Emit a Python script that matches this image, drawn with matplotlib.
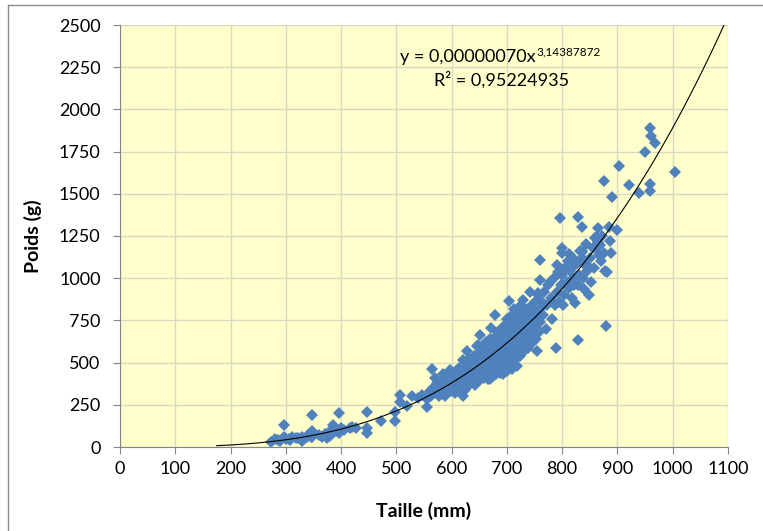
import matplotlib.pyplot as plt
import numpy as np
from matplotlib.lines import Line2D

# (taille mm, poids g)
points = [
    (273, 31), (280, 45), (286, 41), (290, 38), (297, 57), (297, 130), (300, 45), (305, 50),
    (308, 41), (312, 60), (318, 51), (322, 55), (329, 61), (329, 37), (333, 48), (338, 57),
    (340, 70), (345, 62), (347, 95), (347, 190), (347, 57), (350, 80), (360, 70), (365, 60),
    (371, 77), (374, 51), (378, 90), (380, 65), (386, 130), (390, 95), (397, 85), (397, 203),
    (400, 110), (405, 100), (416, 111), (420, 120), (427, 111), (446, 209), (446, 111), (446, 85),
    (472, 156), (498, 209), (498, 156), (507, 308), (507, 268), (519, 243), (529, 302), (540, 290),
    (547, 308), (555, 282), (555, 239),
    (560, 330), (562, 300), (564, 460), (566, 350), (568, 320), (570, 409), (572, 340), (574, 380),
    (575, 350), (577, 300), (579, 360), (580, 390), (582, 330), (584, 370), (585, 432), (586, 350),
    (588, 300), (590, 400), (591, 340), (592, 380), (594, 360), (596, 420), (597, 459), (598, 330),
    (600, 420), (600, 380), (601, 350), (603, 440), (604, 400), (605, 410), (606, 320), (607, 370),
    (608, 450), (610, 360), (610, 420), (611, 390), (612, 390), (613, 340), (614, 470), (615, 430),
    (616, 380), (617, 410), (618, 350), (619, 450), (620, 400), (620, 300),
    (621, 518), (622, 440), (623, 380), (624, 340), (625, 470), (626, 420), (627, 567), (628, 400),
    (629, 450), (630, 490), (630, 360), (631, 430), (632, 520), (633, 400), (634, 470), (635, 380),
    (636, 440), (637, 500), (638, 420), (639, 460), (640, 540), (640, 400), (641, 480), (642, 370),
    (643, 450), (644, 510), (645, 439), (645, 600), (646, 420), (647, 470), (648, 606), (648, 390),
    (649, 530), (650, 450), (650, 500), (651, 665), (651, 420), (652, 560), (653, 480), (654, 400),
    (655, 520), (656, 440), (657, 580), (658, 470), (659, 410), (660, 540), (660, 490),
    (661, 460), (662, 620), (663, 420), (664, 550), (665, 500), (666, 400), (667, 580), (668, 470),
    (669, 400), (670, 640), (670, 520), (671, 440), (672, 705), (672, 560), (673, 490), (674, 420),
    (675, 600), (676, 530), (677, 460), (678, 783), (678, 650), (679, 560), (680, 500), (680, 430),
    (681, 620), (682, 540), (683, 470), (684, 680), (685, 590), (686, 510), (687, 440), (688, 459),
    (688, 640), (689, 570), (690, 700), (690, 500), (691, 620), (692, 550), (693, 430), (694, 660),
    (695, 580), (696, 480), (697, 720), (698, 610), (699, 520), (700, 650), (700, 560), (700, 450),
    (701, 760), (702, 600), (703, 500), (704, 862), (704, 680), (705, 560), (706, 518), (707, 720),
    (708, 640), (709, 460), (710, 780), (710, 590), (711, 680), (712, 520), (713, 820), (714, 620),
    (715, 700), (716, 560), (717, 750), (718, 480), (719, 660), (720, 800), (720, 600), (721, 700),
    (722, 540), (723, 760), (724, 537), (724, 650), (725, 840), (726, 700), (727, 597), (727, 620),
    (728, 760), (729, 680), (730, 872), (730, 560), (731, 730), (732, 640), (733, 800), (734, 700),
    (735, 600), (736, 760), (737, 680), (738, 820), (739, 587), (739, 720), (740, 640), (741, 780),
    (742, 921), (742, 700), (743, 760), (744, 660), (745, 840), (746, 720), (747, 620), (748, 800),
    (749, 700), (750, 760), (750, 680), (751, 860), (752, 740), (753, 640), (754, 567), (754, 800),
    (755, 700), (756, 900), (757, 911), (757, 760), (758, 680), (759, 1108), (759, 820), (760, 990),
    (760, 740),
    (763, 860), (765, 780), (768, 920), (770, 700), (772, 840), (775, 960), (778, 980), (780, 880),
    (782, 760), (785, 1000), (787, 843), (789, 587), (790, 1079), (791, 920), (793, 1039), (795, 860),
    (796, 1355), (797, 960), (799, 1148), (799, 1177), (800, 1020), (802, 843), (804, 900), (806, 1060),
    (808, 980), (810, 1100), (812, 940), (813, 1144), (815, 1040), (817, 880), (819, 1000), (820, 1120),
    (822, 960), (823, 852), (824, 1080), (826, 1089), (828, 636), (829, 961), (829, 1361), (831, 1020),
    (833, 1160), (835, 1163), (835, 1305), (835, 1120), (836, 1158), (838, 1000), (839, 935), (841, 1080),
    (843, 1200), (845, 1040), (848, 1069), (848, 902), (850, 1120), (853, 980), (855, 1180), (858, 1060),
    (860, 1240), (862, 1246), (862, 1180), (864, 1295), (864, 1216), (866, 1140), (868, 1197), (870, 1100),
    (872, 1250), (875, 1151), (875, 1576), (877, 1040), (880, 715), (881, 1039), (884, 1305), (886, 1220),
    (888, 1150), (890, 1483), (899, 1286),
    (902, 1665), (921, 1552), (939, 1507), (950, 1750), (959, 1888), (960, 1842), (968, 1799),
    (959, 1558), (959, 1519), (1004, 1631),
]
taille = [p[0] for p in points]
poids = [p[1] for p in points]

# trendline shown on the chart
coef_a = 0.00000070
coef_b = 3.14387872
eq_text = "y = 0,00000070x"
eq_exp = "3,14387872"
r2_text = "R² = 0,95224935"

plt.rcParams['font.family'] = ['Lato', 'DejaVu Sans']

fig = plt.figure(figsize=(7.63, 5.31), dpi=100)
ax = fig.add_axes([120/763, 1 - 447/531, 608/763, 422/531])
ax.set_facecolor('#FFFFCC')

ax.set_xlim(0, 1100)
ax.set_ylim(0, 2500)
ax.set_xticks(np.arange(0, 1101, 100))
ax.set_yticks(np.arange(0, 2501, 250))
ax.grid(True, color='#D9D9C3', linewidth=1)
ax.set_axisbelow(True)
for s in ['top', 'right']:
    ax.spines[s].set_visible(False)
for s in ['left', 'bottom']:
    ax.spines[s].set_color('#868686')
ax.tick_params(colors='#868686', labelcolor='black', labelsize=13, length=5, direction='out')
ax.tick_params(axis='y', pad=9)
ax.tick_params(axis='x', pad=5)

ax.plot(taille, poids, linestyle='none', marker='D', markersize=6,
        color='#4F81BD', markeredgewidth=0)

xs = np.linspace(175, 1100, 300)
ax.plot(xs, coef_a * xs ** coef_b, color='black', linewidth=0.8)

ax.text(752, 2281, eq_text, ha='right', va='baseline', fontsize=13)
ax.text(753, 2318, eq_exp, ha='left', va='baseline', fontsize=8.5)
ax.text(691, 2139, r2_text, ha='center', va='baseline', fontsize=13)

ax.set_xlabel('Taille (mm)', fontsize=14, fontweight='bold', labelpad=18)
ax.set_ylabel('Poids (g)', fontsize=14, fontweight='bold', labelpad=12)

# outer chart frame
fig.add_artist(Line2D([8/763, 8/763], [0, 1 - 5/531], color='#8C8C8C', linewidth=1))
fig.add_artist(Line2D([8/763, 1], [1 - 5/531, 1 - 5/531], color='#8C8C8C', linewidth=1))

fig.savefig('out.png', dpi=100)
